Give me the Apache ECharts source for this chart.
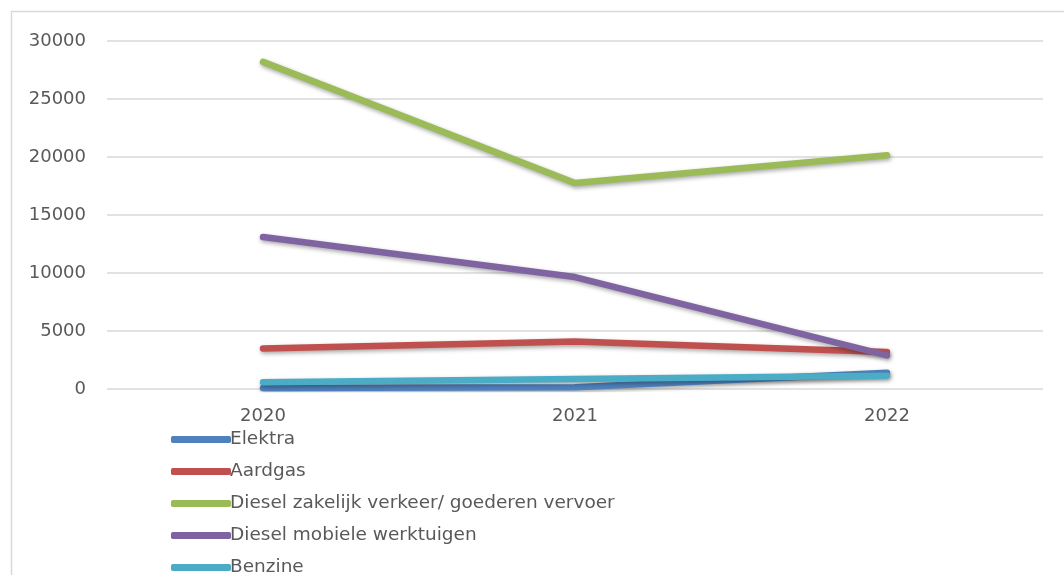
<!DOCTYPE html>
<html><head><meta charset="utf-8">
<script src="https://cdn.jsdelivr.net/npm/echarts@6/dist/echarts.min.js"></script>
<style>html,body{margin:0;padding:0;background:#fff}#c{width:1064px;height:575px}</style>
</head><body><div id="c"></div>
<script>
const years = ['2020', '2021', '2022'];
const elektra = [80, 150, 1400];
const aardgas = [3500, 4100, 3200];
const dieselZakelijk = [28200, 17750, 20150];
const dieselMobiel = [13100, 9650, 2900];
const benzine = [580, 860, 1150];
const names = ['Elektra', 'Aardgas', 'Diesel zakelijk verkeer/ goederen vervoer', 'Diesel mobiele werktuigen', 'Benzine'];
const colors = ['#4f81bd', '#c0504d', '#9bbb59', '#8064a2', '#4bacc6'];
const values = [elektra, aardgas, dieselZakelijk, dieselMobiel, benzine];

const chart = echarts.init(document.getElementById('c'));
const font = 'DejaVu Sans, Verdana, sans-serif';
chart.setOption({
  animation: false,
  color: colors,
  graphic: [{type: 'rect', shape: {x: 11.5, y: 11.5, width: 1100, height: 700}, style: {fill: 'none', stroke: '#d9d9d9', lineWidth: 1.5}, silent: true}],
  grid: {left: 107, right: 21, top: 41, bottom: 186},
  legend: {
    orient: 'vertical', left: 166, top: 425, height: 400, itemWidth: 60, itemHeight: 7, itemGap: 13,
    icon: 'roundRect',
    textStyle: {fontFamily: font, fontSize: 18.5, color: '#595959', padding: [0, 0, 0, -6]},
    data: names
  },
  xAxis: {
    type: 'category', data: years, boundaryGap: true,
    axisLine: {show: false}, axisTick: {show: false},
    axisLabel: {fontFamily: font, fontSize: 18, color: '#595959', margin: 18}
  },
  yAxis: {
    type: 'value', min: 0, max: 30000, interval: 5000,
    axisLine: {show: false}, axisTick: {show: false},
    axisLabel: {fontFamily: font, fontSize: 18, color: '#595959', margin: 21, formatter: v => String(v)},
    splitLine: {lineStyle: {color: '#d9d9d9', width: 1.5}}
  },
  series: names.map((n, i) => ({
    name: n, type: 'line', data: values[i], symbol: 'none',
    lineStyle: {width: 6.5, cap: 'round', join: 'round', shadowColor: 'rgba(0,0,0,0.35)', shadowBlur: 4, shadowOffsetX: 1, shadowOffsetY: 2}
  }))
});
</script></body></html>
